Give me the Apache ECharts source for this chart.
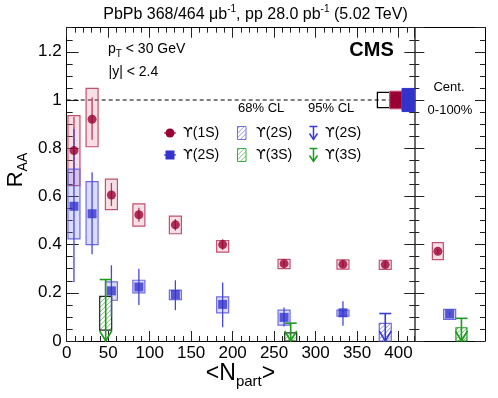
<!DOCTYPE html>
<html><head><meta charset="utf-8">
<script src="https://cdn.jsdelivr.net/npm/echarts@6/dist/echarts.min.js"></script>
<style>html,body{margin:0;padding:0;background:#fff}#c{width:498px;height:398px}</style>
</head><body><div id="c"></div>
<script>
// ---------------- data ----------------
const xTicksMain = [0, 50, 100, 150, 200, 250, 300, 350, 400];
const yTicks = [0, 0.2, 0.4, 0.6, 0.8, 1, 1.2];
const xMaxMain = 419;
const yMax = 1.3;

// Upsilon(1S) vs Npart
const npart1S  = [8.75, 30.6, 53.9, 87.0, 131.0, 188.0, 262.0, 333.0, 384.0];
const raa1S    = [0.790, 0.920, 0.606, 0.524, 0.482, 0.400, 0.321, 0.318, 0.317];
const statLo1S = [0.650, 0.835, 0.560, 0.495, 0.458, 0.378, 0.309, 0.306, 0.305];
const statHi1S = [0.930, 1.010, 0.656, 0.553, 0.506, 0.422, 0.333, 0.330, 0.329];
const systLo1S = [0.645, 0.806, 0.545, 0.477, 0.445, 0.369, 0.300, 0.298, 0.297];
const systHi1S = [0.935, 1.048, 0.672, 0.569, 0.518, 0.417, 0.339, 0.337, 0.335];

// Upsilon(2S) vs Npart
const npart2S  = [8.75, 30.6, 53.9, 87.0, 131.0, 188.0, 262.0, 333.0];
const raa2S    = [0.559, 0.528, 0.208, 0.224, 0.193, 0.152, 0.098, 0.117];
const statLo2S = [0.244, 0.360, 0.100, 0.149, 0.128, 0.057, 0.060, 0.063];
const statHi2S = [0.880, 0.700, 0.314, 0.300, 0.252, 0.243, 0.139, 0.165];
const systLo2S = [0.424, 0.400, 0.169, 0.200, 0.172, 0.117, 0.066, 0.103];
const systHi2S = [0.713, 0.661, 0.245, 0.252, 0.211, 0.183, 0.128, 0.128];

// Upper limits
const ulNpart2S = [384.0];
const ul2S68    = [0.073];
const ul2S95    = [0.114];
const ulNpart3S = [47.0, 270.0];
const ul3S68Lo  = [0.045, 0.0];
const ul3S68Hi  = [0.185, 0.034];
const ul3S95    = [0.255, 0.074];

// Global uncertainties around 1 (pp lumi / Y(1S) / Y(2S))
const globalUnc = [0.032, 0.037, 0.048];

// Centrality integrated 0-100%
const intStates = ['ϒ(1S)', 'ϒ(2S)', 'ϒ(3S)'];
const intIndex  = [0, 1, 2];
const int1S = 0.372, int1SStat = 0.010, int1SSystLo = 0.338, int1SSystHi = 0.408;
const int2S = 0.112, int2SStat = 0.006, int2SSystLo = 0.090, int2SSystHi = 0.131;
const int3S68 = 0.055, int3S95 = 0.094;

// ---------------- styling ----------------
const FONT = '"Liberation Sans", Arial, Helvetica, "DejaVu Sans", sans-serif';
const UFONT = '"DejaVu Sans", sans-serif';
const RED = '#990033', RED_BOX_F = 'rgba(225,110,140,0.22)', RED_BOX_S = '#c2506f', RED_ERR = '#b53a5c';
const BLUE = '#3333cc', BLUE_BOX_F = 'rgba(110,110,235,0.25)', BLUE_BOX_S = '#6c6ce2', BLUE_ERR = '#4747d6';
const GREEN = '#1f9a1f', GREEN_H = '#5cbf5c';
const TICK = {color: '#222', width: 1};

function hatch(x0, y0, x1, y1, step, color) {
  const out = [];
  for (let c = x0 + y0 + step / 2; c < x1 + y1; c += step) {
    const xa = Math.max(x0, c - y1), xb = Math.min(x1, c - y0);
    if (xb > xa) out.push({type: 'line', shape: {x1: xa, y1: c - xa, x2: xb, y2: c - xb},
      style: {stroke: color, lineWidth: 0.9}});
  }
  return out;
}

function boxItem(fill, stroke, hw) {
  return function (params, api) {
    const x = api.value(0), lo = api.value(1), hi = api.value(2);
    const a = api.coord([x, hi]), b = api.coord([x, lo]);
    return {type: 'rect', shape: {x: a[0] - hw, y: a[1], width: 2 * hw, height: b[1] - a[1]},
      style: {fill: fill, stroke: stroke, lineWidth: 1.2}};
  };
}
function hatchBoxItem(stroke, hatchColor, hw) {
  return function (params, api) {
    const x = api.value(0), lo = api.value(1), hi = api.value(2);
    const a = api.coord([x, hi]), b = api.coord([x, lo]);
    const x0 = a[0] - hw, x1 = a[0] + hw, y0 = a[1], y1 = b[1];
    return {type: 'group', children: [
      {type: 'rect', shape: {x: x0, y: y0, width: x1 - x0, height: y1 - y0}, style: {fill: '#fff'}}
    ].concat(hatch(x0, y0, x1, y1, 4.5, hatchColor)).concat([
      {type: 'rect', shape: {x: x0, y: y0, width: x1 - x0, height: y1 - y0},
        style: {fill: 'none', stroke: stroke, lineWidth: 1.2}}
    ])};
  };
}
function errItem(color) {
  return function (params, api) {
    const x = api.value(0), lo = api.value(1), hi = api.value(2);
    const a = api.coord([x, hi]), b = api.coord([x, lo]);
    return {type: 'line', shape: {x1: a[0], y1: a[1], x2: b[0], y2: b[1]},
      style: {stroke: color, lineWidth: 1.3}};
  };
}
function arrowItem(color) {
  return function (params, api) {
    const x = api.value(0), v = api.value(1);
    const t = api.coord([x, v]), b = api.coord([x, 0]);
    const cap = 6, head = 10;
    return {type: 'group', children: [
      {type: 'line', shape: {x1: t[0] - cap, y1: t[1], x2: t[0] + cap, y2: t[1]}, style: {stroke: color, lineWidth: 1.6}},
      {type: 'line', shape: {x1: t[0], y1: t[1], x2: b[0], y2: b[1]}, style: {stroke: color, lineWidth: 1.6}},
      {type: 'polyline', shape: {points: [[b[0] - cap, b[1] - head], [b[0], b[1]], [b[0] + cap, b[1] - head]]},
        style: {stroke: color, fill: 'none', lineWidth: 1.6}}
    ]};
  };
}
function globalItem(params, api) {
  // three boxes anchored to the right edge of the main panel, centred on R_AA = 1
  const fills = ['none', RED, BLUE], strokes = ['#000', '#d07090', BLUE];
  const edge = api.coord([xMaxMain, 1]);
  const w = 12.3;
  const i = params.dataIndex;
  const a = api.coord([xMaxMain, 1 + api.value(0)]), b = api.coord([xMaxMain, 1 - api.value(0)]);
  const x0 = edge[0] - w * (3 - i);
  return {type: 'rect', shape: {x: x0, y: a[1], width: w, height: b[1] - a[1]},
    style: {fill: fills[i], stroke: strokes[i], lineWidth: i === 0 ? 1.3 : 1}};
}

const zip3 = (a, b, c) => a.map((v, i) => [v, b[i], c[i]]);
const zip2 = (a, b) => a.map((v, i) => [v, b[i]]);

// ---------------- axes ----------------
function xAx(grid, pos, interval, len, labels, line) {
  return {gridIndex: grid, type: 'value', position: pos, min: 0, max: xMaxMain, interval: interval,
    axisLine: {show: line, onZero: false, lineStyle: {color: '#000', width: 1}},
    axisTick: {show: true, inside: true, length: len, lineStyle: TICK},
    axisLabel: {show: labels, margin: 4, fontSize: 17, color: '#000', fontFamily: FONT,
      showMaxLabel: false, showMinLabel: true,
      formatter: v => (xTicksMain.indexOf(v) >= 0 ? String(v) : '')},
    splitLine: {show: false}};
}
function yAx(grid, pos, interval, len, labels, line, lineColor, lineWidth) {
  return {gridIndex: grid, type: 'value', position: pos, min: 0, max: yMax, interval: interval,
    axisLine: {show: line, onZero: false, lineStyle: {color: lineColor || '#000', width: lineWidth || 1}},
    axisTick: {show: true, inside: true, length: len, lineStyle: TICK},
    axisLabel: {show: labels, margin: 5, fontSize: 17, color: '#000', fontFamily: FONT,
      showMaxLabel: false,
      formatter: v => {
        const k = yTicks.find(t => Math.abs(t - v) < 1e-6);
        return k === undefined ? '' : String(k);
      }},
    splitLine: {show: false}};
}
function intX(pos) {
  return {gridIndex: 1, type: 'value', position: pos, min: -2, max: 4,
    axisLine: {show: true, onZero: false, lineStyle: {color: '#000', width: 1}},
    axisTick: {show: false}, axisLabel: {show: false}, splitLine: {show: false}};
}

const option = {
  animation: false,
  backgroundColor: '#fff',
  grid: [
    {left: 66.7, top: 27.7, width: 347.6, height: 313.3, outerBoundsMode: 'none'},
    {left: 414.3, top: 27.7, width: 70.7, height: 313.3, outerBoundsMode: 'none'}
  ],
  xAxis: [
    xAx(0, 'bottom', 50, 10, true, true),
    xAx(0, 'bottom', 10, 5, false, false),
    xAx(0, 'top', 50, 10, false, true),
    xAx(0, 'top', 10, 5, false, false),
    intX('bottom'),
    intX('top')
  ],
  yAxis: [
    yAx(0, 'left', 0.2, 12, true, true),
    yAx(0, 'left', 0.05, 6, false, false),
    yAx(0, 'right', 0.2, 10, false, true, '#6a6a6a', 2),
    yAx(0, 'right', 0.05, 5, false, false),
    yAx(1, 'left', 0.2, 10, false, false),
    yAx(1, 'left', 0.05, 5, false, false),
    yAx(1, 'right', 0.2, 10, false, true),
    yAx(1, 'right', 0.05, 5, false, false)
  ],
  series: [
    {type: 'line', xAxisIndex: 0, yAxisIndex: 0, data: [[0, 1], [xMaxMain, 1]], symbol: 'none', silent: true,
      lineStyle: {color: '#000', width: 1, type: [4, 3]}, z: 1},
    // systematic boxes
    {type: 'custom', xAxisIndex: 0, yAxisIndex: 0, renderItem: boxItem(RED_BOX_F, RED_BOX_S, 6),
      data: zip3(npart1S, systLo1S, systHi1S), z: 2},
    {type: 'custom', xAxisIndex: 0, yAxisIndex: 0, renderItem: boxItem(BLUE_BOX_F, BLUE_BOX_S, 6),
      data: zip3(npart2S, systLo2S, systHi2S), z: 2},
    // 68% CL boxes
    {type: 'custom', xAxisIndex: 0, yAxisIndex: 0, renderItem: hatchBoxItem(BLUE_BOX_S, '#8080e0', 6),
      data: ulNpart2S.map((x, i) => [x, 0, ul2S68[i]]), z: 2},
    {type: 'custom', xAxisIndex: 0, yAxisIndex: 0, renderItem: hatchBoxItem('#1c2a1c', GREEN_H, 6),
      data: zip3(ulNpart3S, ul3S68Lo, ul3S68Hi), z: 2},
    // stat error bars
    {type: 'custom', xAxisIndex: 0, yAxisIndex: 0, renderItem: errItem(RED_ERR),
      data: zip3(npart1S, statLo1S, statHi1S), z: 3},
    {type: 'custom', xAxisIndex: 0, yAxisIndex: 0, renderItem: errItem(BLUE_ERR),
      data: zip3(npart2S, statLo2S, statHi2S), z: 3},
    // 95% CL arrows
    {type: 'custom', xAxisIndex: 0, yAxisIndex: 0, renderItem: arrowItem('#3a3ad2'),
      data: zip2(ulNpart2S, ul2S95), z: 4},
    {type: 'custom', xAxisIndex: 0, yAxisIndex: 0, renderItem: arrowItem(GREEN),
      data: zip2(ulNpart3S, ul3S95), z: 4},
    // markers
    {type: 'scatter', xAxisIndex: 0, yAxisIndex: 0, symbol: 'circle', symbolSize: 9,
      itemStyle: {color: RED}, data: zip2(npart1S, raa1S), z: 5},
    {type: 'scatter', xAxisIndex: 0, yAxisIndex: 0, symbol: 'rect', symbolSize: 9,
      itemStyle: {color: BLUE}, data: zip2(npart2S, raa2S), z: 5},
    // global uncertainties
    {type: 'custom', xAxisIndex: 0, yAxisIndex: 0, renderItem: globalItem, clip: false,
      data: globalUnc.map(v => [v]), z: 6},
    // ---- centrality integrated panel ----
    {type: 'custom', xAxisIndex: 4, yAxisIndex: 4, renderItem: boxItem(RED_BOX_F, RED_BOX_S, 5.5),
      data: [[intIndex[0], int1SSystLo, int1SSystHi]], z: 2},
    {type: 'custom', xAxisIndex: 4, yAxisIndex: 4, renderItem: boxItem(BLUE_BOX_F, BLUE_BOX_S, 6),
      data: [[intIndex[1], int2SSystLo, int2SSystHi]], z: 2},
    {type: 'custom', xAxisIndex: 4, yAxisIndex: 4, renderItem: hatchBoxItem(GREEN, GREEN_H, 5.5),
      data: [[intIndex[2], 0, int3S68]], z: 2},
    {type: 'custom', xAxisIndex: 4, yAxisIndex: 4, renderItem: errItem(RED_ERR),
      data: [[intIndex[0], int1S - int1SStat, int1S + int1SStat]], z: 3},
    {type: 'custom', xAxisIndex: 4, yAxisIndex: 4, renderItem: errItem(BLUE_ERR),
      data: [[intIndex[1], int2S - int2SStat, int2S + int2SStat]], z: 3},
    {type: 'custom', xAxisIndex: 4, yAxisIndex: 4, renderItem: arrowItem(GREEN),
      data: [[intIndex[2], int3S95]], z: 4},
    {type: 'scatter', xAxisIndex: 4, yAxisIndex: 4, symbol: 'circle', symbolSize: 9,
      itemStyle: {color: RED}, data: [[intIndex[0], int1S]], z: 5},
    {type: 'scatter', xAxisIndex: 4, yAxisIndex: 4, symbol: 'rect', symbolSize: 9,
      itemStyle: {color: BLUE}, data: [[intIndex[1], int2S]], z: 5}
  ],
  graphic: []
};

// ---------------- texts & legend ----------------
const txt = (x, y, text, size, opts) => Object.assign({type: 'text', x: x, y: y, z: 100,
  style: Object.assign({text: text, fontSize: size, fontFamily: FONT, fill: '#000',
    align: 'left', verticalAlign: 'middle'}, opts || {})});
// legend label: Greek upsilon (hooked) in DejaVu Sans, rest in Liberation Sans
const upsTxt = (x, y, label) => {
  const m = label.match(/^(ϒ)(.*)$/);
  return txt(x, y, '{u|' + m[1] + '}' + m[2], 14,
    {rich: {u: {fontFamily: UFONT, fontSize: 14}}});
};

const G = option.graphic;
G.push(txt(255.5, 15, 'PbPb 368/464 μb{sup|-1}, pp 28.0 pb{sup|-1} (5.02 TeV)', 16,
  {align: 'center', lineHeight: 22, rich: {sup: {fontSize: 10, lineHeight: 10, verticalAlign: 'top', fontFamily: FONT}}}));
G.push(txt(371.5, 50, 'CMS', 20, {align: 'center', fontWeight: 'bold'}));
G.push(txt(108, 49, 'p{sub|T} < 30 GeV', 14,
  {lineHeight: 20, rich: {sub: {fontSize: 10, lineHeight: 10, verticalAlign: 'bottom', fontFamily: FONT}}}));
G.push(txt(108.5, 72, '|y| < 2.4', 14));
G.push(txt(449, 87.5, 'Cent.', 13, {align: 'center'}));
G.push(txt(450, 110, '0-100%', 13, {align: 'center'}));
G.push(Object.assign(txt(16, 170, 'R{sub|AA}', 22,
  {align: 'center', lineHeight: 28, rich: {sub: {fontSize: 14, lineHeight: 14, verticalAlign: 'bottom', fontFamily: FONT}}}),
  {rotation: Math.PI / 2}));
G.push(txt(240.5, 374, '<N{sub|part}>', 23,
  {align: 'center', lineHeight: 30, rich: {sub: {fontSize: 15, lineHeight: 15, verticalAlign: 'bottom', fontFamily: FONT}}}));

// legend
G.push(txt(238, 108, '68% CL', 13));
G.push(txt(308, 108, '95% CL', 13));
const rows = [133, 155];
G.push({type: 'line', z: 100, shape: {x1: 164, y1: rows[0], x2: 176, y2: rows[0]}, style: {stroke: RED_ERR, lineWidth: 1.3}});
G.push({type: 'circle', z: 100, shape: {cx: 170, cy: rows[0], r: 4.5}, style: {fill: RED}});
G.push(upsTxt(183, rows[0], intStates[0]));
G.push({type: 'line', z: 100, shape: {x1: 164, y1: rows[1], x2: 176, y2: rows[1]}, style: {stroke: BLUE_ERR, lineWidth: 1.3}});
G.push({type: 'rect', z: 100, shape: {x: 165.5, y: rows[1] - 4.5, width: 9, height: 9}, style: {fill: BLUE}});
G.push(upsTxt(183, rows[1], intStates[1]));
function legHatch(y, stroke, hc) {
  const x0 = 237.5, x1 = 246, y0 = y - 6.5, y1 = y + 6.5;
  return {type: 'group', z: 100, children: hatch(x0, y0, x1, y1, 4.5, hc).concat([
    {type: 'rect', shape: {x: x0, y: y0, width: x1 - x0, height: y1 - y0}, style: {fill: 'none', stroke: stroke, lineWidth: 1}}])};
}
G.push(legHatch(rows[0], '#7070e0', '#8a8ae6'));
G.push(upsTxt(256, rows[0], intStates[1]));
G.push(legHatch(rows[1], '#3fae3f', '#6cc66c'));
G.push(upsTxt(256, rows[1], intStates[2]));
function legArrow(y, color) {
  const x = 313.5, t = y - 6.5, b = y + 6.5;
  return {type: 'group', z: 100, children: [
    {type: 'line', shape: {x1: x - 4, y1: t, x2: x + 4, y2: t}, style: {stroke: color, lineWidth: 1.5}},
    {type: 'line', shape: {x1: x, y1: t, x2: x, y2: b}, style: {stroke: color, lineWidth: 1.5}},
    {type: 'polyline', shape: {points: [[x - 4, b - 6], [x, b], [x + 4, b - 6]]}, style: {stroke: color, fill: 'none', lineWidth: 1.5}}
  ]};
}
G.push(legArrow(rows[0], '#3a3ad2'));
G.push(upsTxt(325, rows[0], intStates[1]));
G.push(legArrow(rows[1], GREEN));
G.push(upsTxt(325, rows[1], intStates[2]));

const chart = echarts.init(document.getElementById('c'), null, {renderer: 'canvas'});
chart.setOption(option);
</script>
</body></html>
